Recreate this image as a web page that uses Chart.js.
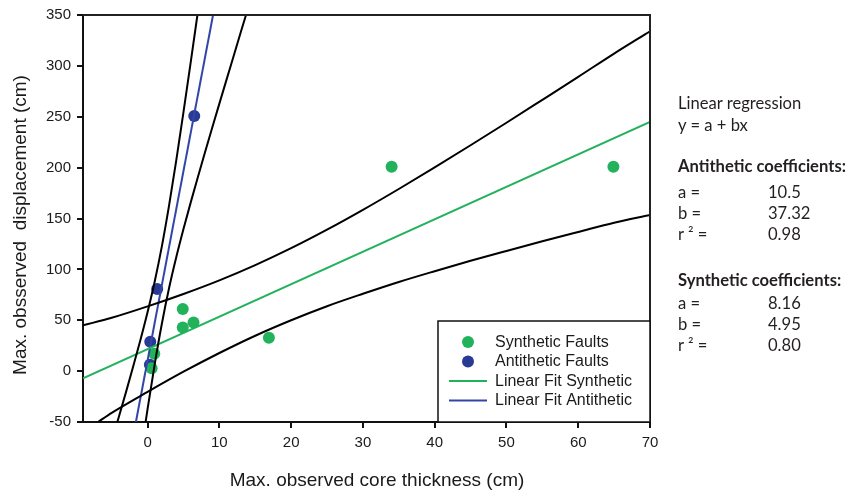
<!DOCTYPE html>
<html>
<head>
<meta charset="utf-8">
<script src="https://cdn.jsdelivr.net/npm/chart.js@4"></script>
<style>
  html, body { margin: 0; padding: 0; background: #fff; }
  #wrap { position: relative; width: 857px; height: 493px; overflow: hidden; }
  #c { position: absolute; left: 0; top: 0; }
  .pt { position: absolute; font-family: Lato, "Open Sans", sans-serif; font-size: 16.6px; color: #231f20; white-space: pre; line-height: 20px; }
  .b { font-weight: bold; }
</style>
</head>
<body>
<div id="wrap">
  <canvas id="c" width="857" height="493"></canvas>
</div>
<script>
// ---- data ----
const synX = [0.56, 0.93, 4.9, 4.9, 6.4, 16.9, 34, 64.9];
const synY = [2.9, 17, 42.9, 61, 47.8, 32.7, 200.9, 200.9];
const antiX = [0.32, 0.37, 1.34, 6.5];
const antiY = [6.2, 28.8, 80.6, 250.7];

const synFitX = [-9, 70];
const synFitY = [-7.1, 244.9];
const antiFitX = [-1.63, 9.12];
const antiFitY = [-50, 350];

// confidence band curves
const synUpX = [-9, -5, 0, 5, 10, 15, 20, 25, 30, 35, 40, 45, 50, 55, 60, 65, 70];
const synUpY = [45, 52.4, 63.6, 75.8, 89.2, 104.2, 120.8, 139, 158.5, 179, 200.2, 222, 244.1, 266.6, 289.2, 312.1, 334];
const synLoX = [-6.9, -5, 0, 5, 10, 15, 20, 25, 30, 35, 40, 45, 50, 55, 60, 65, 70];
const synLoY = [-50, -41, -20.4, -0.6, 17.8, 34.8, 50, 63.8, 76, 87.6, 98.2, 108.4, 118.1, 127.6, 136.8, 145.9, 153.5];
const antiUpX = [-4.5, -4, -3, -2, -1, 0, 1, 2, 3, 4, 5, 6, 7];
const antiUpY = [-56.8, -44.8, -20.4, 4.7, 30.6, 58.1, 88.4, 123.1, 163.1, 207.4, 254.5, 303.2, 352.8];
const antiLoX = [-0.5, 0, 1, 2, 3, 4, 5, 6, 7, 8, 9, 10, 11, 12, 13, 14];
const antiLoY = [-60.4, -37.1, 7.2, 47.1, 81.9, 112.2, 139.7, 165.6, 190.6, 215.1, 239.1, 262.9, 286.5, 310, 333.5, 356.8];

const xTicks = [0, 10, 20, 30, 40, 50, 60, 70];
const yTicks = [-50, 0, 50, 100, 150, 200, 250, 300, 350];

const legendLabels = ['Synthetic Faults', 'Antithetic Faults', 'Linear Fit Synthetic', 'Linear Fit Antithetic'];
const xTitle = 'Max. observed core thickness (cm)';
const yTitle = 'Max. obsserved  displacement (cm)';

const panelHead = ['Linear regression', 'y = a + bx'];
const coefNames = ['a =', 'b =', 'r \u00b2 ='];
const antiTitle = 'Antithetic coefficients:';
const antiCoef = ['10.5', '37.32', '0.98'];
const synTitle = 'Synthetic coefficients:';
const synCoef = ['8.16', '4.95', '0.80'];

// ---- styles ----
const GREEN = '#22b25c';
const BLUE = '#283a93';
const BLUE_LINE = '#3346a8';

const pts = (xs, ys) => xs.map((x, i) => ({x: x, y: ys[i]}));

function bandDs(xs, ys) {
  return { data: pts(xs, ys), showLine: true, borderColor: '#000', borderWidth: 2,
           pointRadius: 0, cubicInterpolationMode: 'monotone', fill: false };
}

const datasets = [
  bandDs(synUpX, synUpY),
  bandDs(synLoX, synLoY),
  bandDs(antiUpX, antiUpY),
  bandDs(antiLoX, antiLoY),
  { data: pts(synFitX, synFitY), showLine: true, borderColor: GREEN, borderWidth: 2, pointRadius: 0 },
  { data: pts(antiFitX, antiFitY), showLine: true, borderColor: BLUE_LINE, borderWidth: 2, pointRadius: 0 },
  { data: pts(synX, synY), showLine: false, pointRadius: 6, pointBackgroundColor: GREEN, pointBorderWidth: 0, borderColor: GREEN },
  { data: pts(antiX, antiY), showLine: false, pointRadius: 6, pointBackgroundColor: BLUE, pointBorderWidth: 0, borderColor: BLUE },
];

const legendItems = [
  { label: legendLabels[0], type: 'point', color: GREEN },
  { label: legendLabels[1], type: 'point', color: BLUE },
  { label: legendLabels[2], type: 'line', color: GREEN },
  { label: legendLabels[3], type: 'line', color: BLUE_LINE },
];

const framePlugin = {
  id: 'frame',
  afterDraw(chart) {
    const {ctx, chartArea: a} = chart;
    ctx.save();
    ctx.strokeStyle = '#222';
    ctx.lineWidth = 2;
    ctx.beginPath();
    ctx.moveTo(a.left, a.top);
    ctx.lineTo(a.right, a.top);
    ctx.lineTo(a.right, a.bottom);
    ctx.stroke();

    // legend box
    const bx = 438, by = 321, bw = a.right - 438, bh = a.bottom - 321;
    ctx.fillStyle = '#fff';
    ctx.fillRect(bx, by, bw, bh);
    ctx.strokeStyle = '#111';
    ctx.lineWidth = 1.5;
    ctx.strokeRect(bx, by, bw, bh);
    ctx.font = '16px "Liberation Sans", Arial, sans-serif';
    ctx.textBaseline = 'middle';
    ctx.textAlign = 'left';
    const rows = [342, 361.5, 381, 400.5];
    legendItems.forEach((it, i) => {
      const y = rows[i];
      if (it.type === 'point') {
        ctx.fillStyle = it.color;
        ctx.beginPath();
        ctx.arc(468, y, 6, 0, Math.PI * 2);
        ctx.fill();
      } else {
        ctx.strokeStyle = it.color;
        ctx.lineWidth = 2;
        ctx.beginPath();
        ctx.moveTo(449, y);
        ctx.lineTo(487, y);
        ctx.stroke();
      }
      ctx.fillStyle = '#1a1a1a';
      ctx.fillText(it.label, 495, y + 0.5);
    });

    // axis titles
    ctx.fillStyle = '#1a1a1a';
    ctx.font = '19px "Liberation Sans", Arial, sans-serif';
    ctx.textAlign = 'center';
    ctx.textBaseline = 'middle';
    ctx.fillText(xTitle, 377, 481);
    ctx.save();
    ctx.translate(21, 225);
    ctx.rotate(-Math.PI / 2);
    ctx.fillText(yTitle, 0, 0);
    ctx.restore();
    ctx.restore();
  }
};

new Chart(document.getElementById('c'), {
  type: 'scatter',
  data: { datasets },
  options: {
    responsive: false,
    devicePixelRatio: 1,
    animation: false,
    events: [],
    layout: { padding: { left: 0, right: 207, top: 15, bottom: 0 } },
    plugins: { legend: { display: false }, tooltip: { enabled: false } },
    scales: {
      x: {
        type: 'linear', min: -9, max: 70,
        afterBuildTicks: s => { s.ticks = xTicks.map(v => ({value: v})); },
        afterFit: s => { s.height = 71; },
        grid: { drawOnChartArea: false, drawTicks: true, tickLength: 6, color: '#111', lineWidth: 2 },
        border: { display: true, color: '#111', width: 2 },
        ticks: { color: '#1a1a1a', font: { family: '"Liberation Sans", Arial', size: 15 }, padding: 6, maxRotation: 0 },
      },
      y: {
        type: 'linear', min: -50, max: 350,
        afterBuildTicks: s => { s.ticks = yTicks.map(v => ({value: v})); },
        afterFit: s => { s.width = 83; },
        grid: { drawOnChartArea: false, drawTicks: true, tickLength: 6, color: '#111', lineWidth: 2 },
        border: { display: true, color: '#111', width: 2 },
        ticks: { color: '#1a1a1a', font: { family: '"Liberation Sans", Arial', size: 15 }, padding: 6 },
      }
    }
  },
  plugins: [framePlugin]
});

// ---- right-hand text panel ----
const wrap = document.getElementById('wrap');
function addText(txt, x, yc, bold) {
  const d = document.createElement('div');
  d.className = 'pt' + (bold ? ' b' : '');
  d.textContent = txt;
  d.style.left = x + 'px';
  d.style.top = (yc - 10) + 'px';
  wrap.appendChild(d);
}
addText(panelHead[0], 678, 103);
addText(panelHead[1], 678, 125);
addText(antiTitle, 678, 166, true);
[192, 213, 234].forEach((y, i) => { addText(coefNames[i], 678, y); addText(antiCoef[i], 768, y); });
addText(synTitle, 678, 280, true);
[303, 324, 345].forEach((y, i) => { addText(coefNames[i], 678, y); addText(synCoef[i], 768, y); });
</script>
</body>
</html>
